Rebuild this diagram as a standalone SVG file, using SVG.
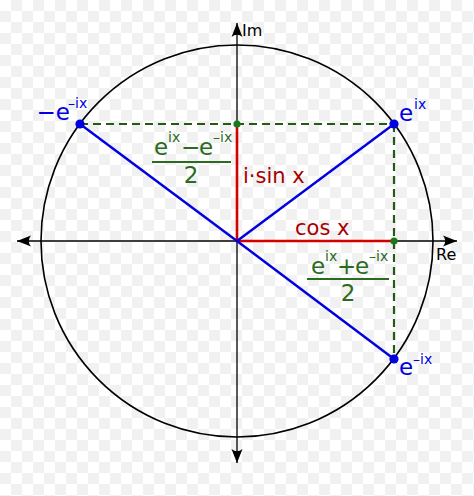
<svg xmlns="http://www.w3.org/2000/svg" width="474" height="496" viewBox="0 0 474 496">
  <defs>
    <pattern id="checker" x="0" y="0" width="22" height="22" patternUnits="userSpaceOnUse">
      <rect width="22" height="22" fill="#ffffff"/>
      <rect x="11" y="0" width="11" height="11" fill="#f1f1f1"/>
      <rect x="0" y="11" width="11" height="11" fill="#f1f1f1"/>
    </pattern>
    <marker id="arrow" viewBox="-15 -7 16 14" refX="0" refY="0" markerWidth="16" markerHeight="14" markerUnits="userSpaceOnUse" orient="auto-start-reverse">
      <path d="M0,0 L-14,-5.5 Q-9.5,0 -14,5.5 Z" fill="#000"/>
    </marker>
  </defs>
  <style>
    text { font-family: "DejaVu Sans", "Liberation Sans", sans-serif; }
    .axis { stroke: #000; stroke-width: 1.3; fill: none; }
    .circ { stroke: #000; stroke-width: 1.6; fill: none; }
    .red { stroke: #d40000; stroke-width: 2.6; fill: none; }
    .blue { stroke: #0000e0; stroke-width: 2.4; fill: none; }
    .dash { stroke: #245a14; stroke-width: 2.2; stroke-dasharray: 8 5; fill: none; }
    .bdot { fill: #0000e0; }
    .gdot { fill: #1a7a1a; }
    .lbl { font-size: 16px; fill: #000; }
    .redtxt { font-size: 21px; fill: #a80000; }
    .bluetxt { font-size: 23px; fill: #0000e0; }
    .bluesup { font-size: 14px; fill: #0000e0; }
    .grtxt { font-size: 23px; fill: #2b6b1e; }
    .grsup { font-size: 14px; fill: #2b6b1e; }
    .bar { stroke: #2b6b1e; stroke-width: 2; }
  </style>
  <rect width="474" height="496" fill="url(#checker)"/>

  <g id="unit-circle">
    <circle class="circ" cx="237" cy="241" r="196"/>
  </g>

  <g id="axes">
    <line class="axis" x1="17" y1="241" x2="457" y2="241" marker-start="url(#arrow)" marker-end="url(#arrow)"/>
    <line class="axis" x1="237" y1="463" x2="237" y2="23" marker-start="url(#arrow)" marker-end="url(#arrow)"/>
    <text class="lbl" x="242" y="36">Im</text>
    <text class="lbl" x="436" y="260">Re</text>
  </g>

  <g id="connectors">
    <line class="red" x1="237" y1="124" x2="237" y2="241"/>
    <line class="red" x1="237" y1="241" x2="394" y2="241"/>
    <line class="blue" x1="237" y1="241" x2="394" y2="124"/>
    <line class="blue" x1="237" y1="241" x2="80" y2="124"/>
    <line class="blue" x1="237" y1="241" x2="394" y2="359"/>
    <line class="dash" x1="80" y1="124" x2="394" y2="124"/>
    <line class="dash" x1="394" y1="124" x2="394" y2="359"/>
  </g>

  <g id="node-eix">
    <circle class="bdot" cx="394" cy="124" r="4.6"/>
    <text class="bluetxt" x="399" y="121">e</text>
    <text class="bluesup" x="414" y="109">ix</text>
  </g>

  <g id="node-neg-emix">
    <circle class="bdot" cx="80" cy="124" r="4.6"/>
    <text class="bluetxt" x="70" y="120" text-anchor="end">−e</text>
    <text class="bluesup" x="68" y="108">–ix</text>
  </g>

  <g id="node-emix">
    <circle class="bdot" cx="394" cy="359" r="4.6"/>
    <text class="bluetxt" x="399" y="375">e</text>
    <text class="bluesup" x="413" y="364">–ix</text>
  </g>

  <g id="node-sin-foot">
    <circle class="gdot" cx="237" cy="124" r="3.6"/>
  </g>

  <g id="node-cos-foot">
    <circle class="gdot" cx="394" cy="241" r="3.6"/>
  </g>

  <g id="label-sin">
    <text class="redtxt" x="243" y="183">i·sin x</text>
  </g>

  <g id="label-cos">
    <text class="redtxt" x="295" y="235">cos x</text>
  </g>

  <g id="label-sin-fraction">
    <text class="grtxt" x="154" y="155">e</text>
    <text class="grsup" x="168" y="142">ix</text>
    <text class="grtxt" x="181" y="155" font-size="20">−</text>
    <text class="grtxt" x="199" y="155">e</text>
    <text class="grsup" x="213" y="142">–ix</text>
    <line class="bar" x1="152" y1="162" x2="231" y2="162"/>
    <text class="grtxt" x="191" y="183" font-size="22" text-anchor="middle">2</text>
  </g>

  <g id="label-cos-fraction">
    <text class="grtxt" x="311" y="274">e</text>
    <text class="grsup" x="325" y="261">ix</text>
    <text class="grtxt" x="337" y="274" font-size="22">+</text>
    <text class="grtxt" x="355" y="274">e</text>
    <text class="grsup" x="369" y="261">–ix</text>
    <line class="bar" x1="307" y1="279" x2="389" y2="279"/>
    <text class="grtxt" x="348" y="301" font-size="22" text-anchor="middle">2</text>
  </g>
</svg>
